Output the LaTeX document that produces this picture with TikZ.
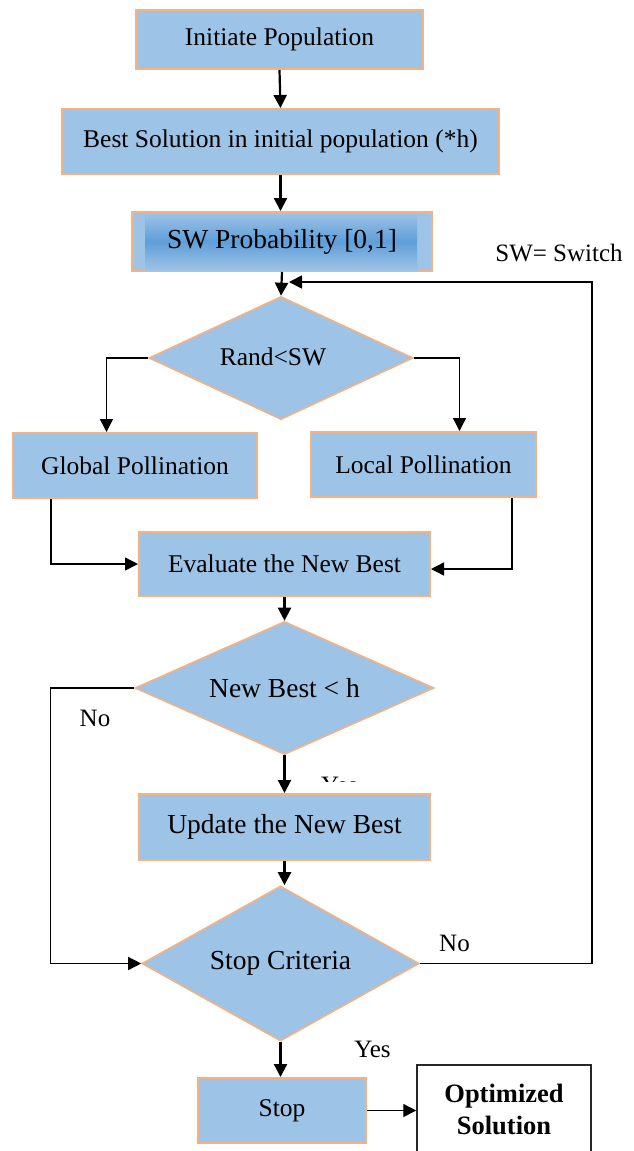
\documentclass[tikz,border=0pt]{standalone}
\usepackage{fontspec}
\setmainfont{Liberation Serif}
\usetikzlibrary{arrows.meta,shapes.geometric}
\definecolor{boxfill}{HTML}{9DC3E6}
\definecolor{boxedge}{HTML}{F4B183}
\definecolor{boxdark}{HTML}{5F9ED8}
\begin{document}
\begin{tikzpicture}[x=1pt,y=-1pt,
  txt/.style={font=\fontsize{25.5}{30}\selectfont},
  txtb/.style={font=\fontsize{27.5}{32}\selectfont},
  proc/.style={draw=boxedge, fill=boxfill, line width=2pt, inner sep=0pt},
  dec/.style={shape=diamond, draw=boxedge, fill=boxfill, line width=1.6pt, inner sep=0pt, aspect=2},
  tip/.style={-{Triangle[length=13pt,width=13pt]}},
  main/.style={line width=2.2pt, tip},
  conn/.style={line width=1.4pt, tip},
  lab/.style={font=\fontsize{25}{30}\selectfont, inner sep=0pt}
]
\useasboundingbox (0,0) rectangle (634,1151);
\fill[white] (0,0) rectangle (634,1151);

% boxes
\node[proc, txt, minimum width=287, minimum height=59] (init) at (279.5,39.5) {Initiate Population};
\node[proc, txt, minimum width=437, minimum height=65] (best) at (280.5,141.5) {Best Solution in initial population (*h)};
\node[proc, minimum width=300, minimum height=59] (swp) at (282,241.5) {};
\shade[top color=boxfill, bottom color=boxfill, middle color=boxdark] (145,213) rectangle (417,270);
\node[txtb, inner sep=0pt] (swptxt) at (swp.center) {SW Probability [0,1]};
\node[lab] (swlab) at (559,253) {SW= Switch};

\node[dec, minimum width=264, minimum height=123] (d1) at (281,358) {};
\node[txt, inner sep=0pt] (d1txt) at (273,357) {Rand<SW};
\node[proc, txt, minimum width=244, minimum height=65] (glob) at (135,465.5) {Global Pollination};
\node[proc, txt, minimum width=225, minimum height=65] (loc) at (423.5,464.5) {Local Pollination};
\node[proc, txt, minimum width=291, minimum height=64] (eval) at (284.5,564) {Evaluate the New Best};
\node[dec, txtb, minimum width=299, minimum height=133] (d2) at (284.5,688) {New Best < h};
\node[proc, txtb, minimum width=291, minimum height=66] (upd) at (284.5,827) {Update the New Best};
\node[dec, txtb, minimum width=277, minimum height=155] (d3) at (280.5,963.5) {Stop Criteria};
\node[proc, txt, minimum width=168, minimum height=65] (stop) at (282,1110.5) {Stop};
\node[draw=black!85, fill=white, line width=1.5pt, minimum width=174, minimum height=88, inner sep=0pt,
      align=center, font=\fontsize{26.5}{32}\selectfont\bfseries] (opt) at (504,1109) {Optimized\\Solution};

% labels
\node[lab] (no1) at (95,718) {No};
\node[lab] (no2) at (454.5,943) {No};
\node[lab] (yes) at (372.5,1049) {Yes};
\begin{scope}
\clip (300,776.5) rectangle (380,781.5);
\node[lab, anchor=base west] (yesfrag) at (321,793.5) {Yes};
\end{scope}

% connectors
\coordinate (merge) at (289,282);
\coordinate (fb) at (592,282);
\draw[main] (init.south) -- (best.north);
\draw[main] (best.south) -- (best.south |- swp.north);
\draw[main] (swp.south) -- (d1.north);
\draw[line width=1.7pt, tip] (d3.east) -| (fb) -- (merge);
\draw[conn] (d1.west) -| ([xshift=-28.5pt]glob.north);
\draw[conn] (d1.east) -| ([xshift=36pt]loc.north);
\draw[conn] ([xshift=-84pt]glob.south) |- (eval.west);
\draw[conn] ([xshift=88.5pt]loc.south) |- ([yshift=-5pt]eval.east);
\draw[main] (eval.south) -- (d2.north);
\draw[main] (d2.south) -- (d2.south |- upd.north);
\draw[conn] (d2.west) -- ++(-84,0) |- (d3.west);
\draw[main] (upd.south) -- (upd.south |- d3.north);
\draw[main] (d3.south) -- (d3.south |- stop.north);
\draw[conn] (stop.east) -- (opt.west |- stop.east);
\end{tikzpicture}
\end{document}
